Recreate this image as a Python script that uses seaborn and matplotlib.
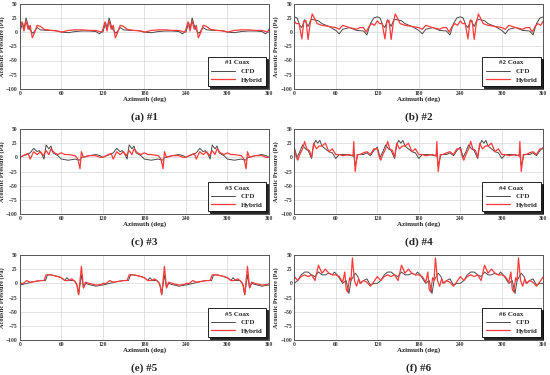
import numpy as np
import pandas as pd
import matplotlib
matplotlib.use("Agg")
import matplotlib.pyplot as plt
from matplotlib.ticker import MultipleLocator
import seaborn as sns

# One blade passage (0-120 deg); the signal repeats 3 times
CFD1_deg = [0, 2, 4, 6, 9, 12, 15, 19, 25, 30, 40, 50, 60, 70, 80, 90, 100, 110, 115, 118]
CFD1 = [0, 8, 17, 5, 25, 12, 3, -2, 8, 4, 3, 3, 0, -1, 1, 2, 2, 1, -3, 0]
HYB1_deg = [0, 3, 6, 9, 12, 15, 18, 21, 25, 30, 35, 45, 55, 60, 70, 80, 90, 100, 110, 118]
HYB1 = [5, 18, 2, 20, 5, 12, -10, -2, 12, 10, 5, 3, 2, 0, 3, 4, 4, 3, 3, 0]

CFD2_deg = [0, 4, 8, 11, 15, 20, 24, 28, 35, 40, 50, 60, 65, 70, 80, 90, 100, 105, 110, 115]
CFD2 = [27, 25, 12, 8, 22, 10, 22, 22, 20, 15, 10, 3, -3, 5, 8, 3, 2, -5, 15, 25]
HYB2_deg = [0, 3, 7, 11, 14, 17, 20, 23, 26, 29, 33, 40, 50, 60, 65, 70, 75, 80, 90, 95, 100, 104, 108, 112, 116]
HYB2 = [20, 15, 15, -12, 20, 20, -13, 15, 32, 25, 15, 12, 10, 8, 5, 12, 10, 8, 5, 8, 8, 0, 10, 15, 12]

CFD3_deg = [0, 5, 10, 15, 20, 25, 28, 32, 35, 38, 42, 45, 48, 55, 60, 70, 80, 86, 90, 100, 110, 116]
CFD3 = [0, 3, 5, 8, 16, 10, 12, 5, -3, 22, 15, 20, 8, 3, -3, -5, -3, -5, 0, 3, 5, 3]
HYB3_deg = [0, 8, 12, 15, 20, 25, 30, 34, 38, 42, 45, 50, 55, 60, 65, 70, 80, 84, 87, 89, 92, 100, 110, 116]
HYB3 = [0, 5, 7, -3, 10, 5, 10, 3, 12, 5, 15, 8, 5, 8, 5, 5, 3, -3, -20, 10, 0, 3, 3, 0]

CFD4_deg = [0, 4, 8, 12, 16, 20, 25, 28, 31, 34, 37, 40, 45, 50, 55, 60, 65, 75, 82, 86, 88, 92, 100, 105, 110, 115]
CFD4 = [18, 0, 10, 22, 15, 12, -2, 22, 30, 25, 30, 20, 15, 10, 8, -2, 5, 5, 3, 5, -15, 5, 5, 8, 3, 12]
HYB4_deg = [0, 3, 5, 8, 12, 15, 18, 22, 25, 28, 32, 36, 40, 45, 50, 55, 60, 65, 70, 80, 85, 86, 88, 91, 95, 100, 105, 110, 115]
HYB4 = [15, 0, -5, 5, 15, 28, 15, 12, 0, 25, 15, 20, 20, 25, 10, 15, 5, 5, 3, 5, 2, 28, -25, 5, 5, 8, 10, 5, 15]

CFD5_deg = [0, 10, 20, 30, 37, 40, 45, 55, 60, 65, 68, 72, 78, 82, 85, 89, 92, 95, 100, 110, 118]
CFD5 = [-3, 0, 3, 5, 5, 15, 15, 12, 10, 5, 10, 5, 5, 0, -20, 15, -8, 0, -2, -5, -3]
HYB5_deg = [0, 5, 10, 15, 20, 30, 35, 38, 45, 55, 60, 65, 70, 75, 80, 83, 85, 87, 89, 92, 95, 100, 110, 118]
HYB5 = [0, 0, 5, 2, 3, 5, 5, 15, 15, 12, 10, 5, 5, 8, 3, -5, -20, 5, 30, -8, 2, 0, -3, -2]

CFD6_deg = [0, 5, 10, 15, 20, 25, 30, 35, 40, 45, 50, 55, 58, 62, 70, 75, 79, 82, 88, 92, 95, 100, 105, 110, 115]
CFD6 = [0, 5, 15, 20, 20, 15, 12, 20, 15, 15, 18, 15, 20, 15, 0, 5, -18, 5, 18, 12, 0, 5, 8, -3, 0]
HYB6_deg = [0, 5, 10, 15, 20, 25, 30, 35, 40, 45, 50, 55, 60, 65, 70, 73, 75, 77, 80, 82, 84, 87, 90, 93, 96, 100, 105, 110, 115]
HYB6 = [12, 5, 12, 15, 12, 15, 5, 32, 18, 25, 18, 15, 15, 12, 2, 20, -10, -15, 10, 5, 45, 5, -5, 8, 0, 5, 2, -5, 3]

panels = [
    ("#1", "(a) #1", CFD1_deg, CFD1, HYB1_deg, HYB1),
    ("#2", "(b) #2", CFD2_deg, CFD2, HYB2_deg, HYB2),
    ("#3", "(c) #3", CFD3_deg, CFD3, HYB3_deg, HYB3),
    ("#4", "(d) #4", CFD4_deg, CFD4, HYB4_deg, HYB4),
    ("#5", "(e) #5", CFD5_deg, CFD5, HYB5_deg, HYB5),
    ("#6", "(f) #6", CFD6_deg, CFD6, HYB6_deg, HYB6),
]


def full_rev(deg, val):
    # repeat the 120 deg passage over a full revolution
    x = np.concatenate([np.array(deg) + 120 * k for k in range(3)] + [[360]])
    y = np.concatenate([val] * 3 + [[val[0]]])
    return pd.DataFrame({"Azimuth": x, "Pressure": y})


sns.set_style("white")
plt.rcParams["font.family"] = ["Liberation Serif", "DejaVu Serif"]
plt.rcParams["font.weight"] = "bold"
plt.rcParams["axes.labelweight"] = "bold"

fig = plt.figure(figsize=(5.5, 3.75), dpi=100)
lefts = [0.036, 0.535]
bottoms = [0.763, 0.429, 0.093]
W, H = 0.453, 0.227

for i, (name, cap, cd, cv, hd, hv) in enumerate(panels):
    ax = fig.add_axes([lefts[i % 2], bottoms[i // 2], W, H])
    sns.lineplot(data=full_rev(cd, cv), x="Azimuth", y="Pressure", ax=ax,
                 color="#4a4a4a", lw=0.7, label="CFD", sort=False, estimator=None)
    sns.lineplot(data=full_rev(hd, hv), x="Azimuth", y="Pressure", ax=ax,
                 color="#ff3a3a", lw=0.9, label="Hybrid", sort=False, estimator=None)
    ax.set_xlim(0, 360)
    ax.set_ylim(-100, 50)
    ax.xaxis.set_major_locator(MultipleLocator(60))
    ax.xaxis.set_minor_locator(MultipleLocator(30))
    ax.yaxis.set_major_locator(MultipleLocator(25))
    ax.grid(True, which="major", color="#d8d8d8", lw=0.5)
    ax.tick_params(which="both", direction="in", labelsize=4, length=2, width=0.5,
                   pad=1.5, colors="#333333")
    ax.tick_params(which="minor", length=1.2)
    for s in ax.spines.values():
        s.set_color("#555555")
        s.set_linewidth(0.7)
    ax.set_xlabel("Azimuth (deg)", fontsize=5, labelpad=0)
    ax.set_ylabel("Acoustic Pressure (Pa)", fontsize=4.5, labelpad=1)
    leg = ax.legend(title=f"{name} Coax", loc="lower right", fontsize=5,
                    title_fontsize=5, frameon=True, fancybox=False,
                    shadow={"ox": 1.5, "oy": -1.5, "color": "black", "alpha": 0.85},
                    handlelength=3.5, borderpad=0.5, labelspacing=0.4,
                    borderaxespad=0.4)
    leg.get_frame().set_edgecolor("black")
    leg.get_frame().set_linewidth(0.6)
    leg.get_title().set_fontweight("bold")
    for t in leg.get_texts():
        t.set_fontweight("bold")
    fig.text(lefts[i % 2] + W / 2, bottoms[i // 2] - 0.075, cap, ha="center",
             va="center", fontsize=8, fontweight="bold")

fig.savefig("out.png", dpi=100)
